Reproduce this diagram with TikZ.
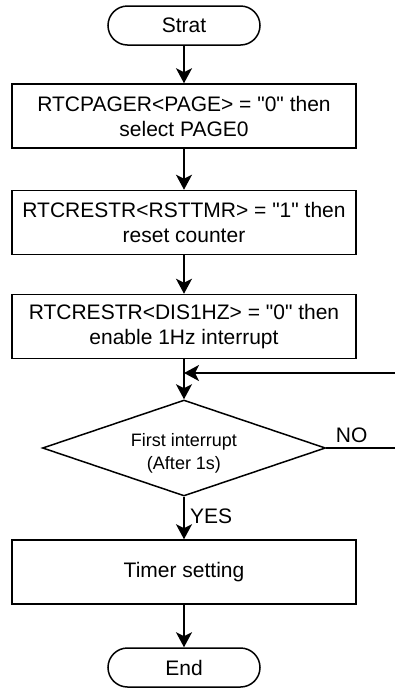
\documentclass[tikz,border=0pt]{standalone}
\usepackage{fontspec}
\newfontfamily\chartfont{Liberation Sans}
\usepackage{tikz}
\usetikzlibrary{arrows.meta, shapes.geometric, shapes.misc}

\begin{document}
\begin{tikzpicture}[x=1pt, y=-1pt,
  every node/.style={font=\chartfont\fontsize{21}{25}\selectfont},
  term/.style={draw, line width=1.5pt, rounded rectangle, minimum width=152pt, minimum height=39pt, inner sep=0pt},
  proc/.style={draw, line width=1.5pt, rectangle, minimum width=344pt, minimum height=64pt, inner sep=0pt, align=center},
  cond/.style={draw, line width=1.5pt, diamond, aspect=2.95, minimum width=283pt, minimum height=96pt, inner sep=0pt},
  flow/.style={line width=1.6pt, -{Stealth[length=15pt, width=16pt, inset=4pt]}}]
  \useasboundingbox (0,0) rectangle (395,689);
  \node[term] (strat) at (184,25.5) {Strat};
  \node[proc] (page) at (184,116) {RTCPAGER<PAGE> = "0" then\\select PAGE0};
  \node[proc] (rst) at (184,222.5) {RTCRESTR<RSTTMR> = "1" then\\reset counter};
  \node[proc] (dis) at (184,326.5) {RTCRESTR<DIS1HZ> = "0" then\\enable 1Hz interrupt};
  \node[cond] (first) at (184,448) {};
  \node[align=center, font=\chartfont\fontsize{18}{23}\selectfont] (firsttxt) at ([yshift=-5pt]first.center) {First interrupt\\(After 1s)};
  \node[proc] (timer) at (184,572) {Timer setting};
  \node[term] (fin) at (184,667.5) {End};
  \coordinate (noend) at (395,448);
  \coordinate (back) at (395,373);
  \coordinate (join) at (184,373);
  \draw[flow] (strat) -- (page);
  \draw[flow] (page) -- (rst);
  \draw[flow] (rst) -- (dis);
  \draw[flow] (dis) -- (first);
  \draw[flow] (first) -- (timer) node[pos=0.45, right=2pt] (yes) {YES};
  \draw[flow] (timer) -- (fin);
  \draw[line width=1.6pt] (first.east) -- (noend) node[pos=0.37, above=1pt] (no) {NO};
  \draw[flow] (back) -- (join);
\end{tikzpicture}
\end{document}
